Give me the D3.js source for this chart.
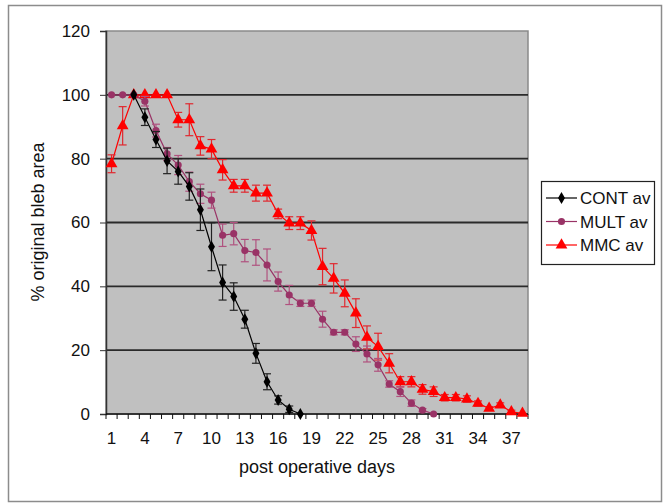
<!DOCTYPE html>
<meta charset="utf-8">
<style>
  html, body { margin: 0; padding: 0; background: #fff; }
  svg text { font-family: "Liberation Sans", Arial, sans-serif; fill: #111; }
  .grid line { stroke: #2a2a2a; stroke-width: 1.8px; }
</style>
<body>
</body>
<script src="https://cdnjs.cloudflare.com/ajax/libs/d3/7.8.5/d3.min.js"></script>
<script>

  var width = 663, height = 504;

  // post operative days on the category axis
  var days = d3.range(1, 39);
  var yTicks = [0, 20, 40, 60, 80, 100, 120];

  // CONT av : days 3..18
  var contDays = d3.range(3, 19);
  var contVals = [100, 93, 86, 79.3, 76, 71.3, 64, 52.4, 41.2, 36.8, 29.7, 19, 10.1, 4.4, 1.5, 0];
  var contErr  = [0, 2.6, 2.5, 4, 4, 4.3, 6.5, 7.5, 5.5, 4.3, 2.8, 3.1, 2.5, 1.3, 1, 0];

  // MULT av : days 1..30
  var multDays = d3.range(1, 31);
  var multVals = [100, 100, 100, 98, 88.8, 81.5, 78, 72.8, 69, 67, 56, 56.5, 51.2, 50.6, 46.7, 41.5, 37.3, 34.7,
                  34.7, 29.7, 25.6, 25.6, 21.9, 18.8, 15.4, 9.4, 7, 3.4, 1.2, 0];
  var multErr  = [0, 0, 0, 1.5, 2, 2, 3, 3, 3, 2.5, 3.5, 3.5, 3.5, 4, 5, 3, 3, 1, 1, 2.5, 0.8, 0.8, 2.3, 2.5,
                  2, 1, 1.5, 1, 0.5, 0];

  // MMC av : days 1..38
  var mmcDays = d3.range(1, 39);
  var mmcVals = [78.4, 90.3, 100, 100, 100, 100, 92.2, 92.2, 84, 83, 76.5, 71.5, 71.5, 69.2, 69.2, 62.7, 59.8, 59.8,
                 57.5, 46.2, 42.5, 37.8, 31.6, 24, 21.1, 15.9, 10.1, 10.1, 7.7, 7, 5.1, 5.1, 4.7, 3.3, 1.8, 2.8, 0.7, 0.2];
  var mmcErr  = [2.8, 6, 0, 0, 0, 0, 2.3, 5, 2.9, 3, 3.2, 2, 2, 2.5, 2.5, 1.5, 2, 2, 3, 5.7, 4.6, 4.2, 4.5, 3.6,
                 4.2, 3, 1.6, 1.6, 1.5, 1.5, 1, 1, 1, 0.8, 0.5, 0.7, 0.5, 0];

  var seriesNames = ["CONT av", "MULT av", "MMC av"];
  var seriesColors = ["#000000", "#993366", "#ff0000"];
  var errColors = ["#222222", "#b0527f", "#e0282f"];
  var symbols = [d3.symbolDiamond, d3.symbolCircle, d3.symbolTriangle];
  var symSizes = [42, 40, 60];

  var plot = {left: 106, right: 528, top: 31, bottom: 414};

  var svg = d3.select("body").append("svg")
      .attr("width", width)
      .attr("height", height);

  // outer chart frame
  svg.append("rect")
      .attr("x", 8.5).attr("y", 5.5)
      .attr("width", 653).attr("height", 496)
      .attr("fill", "#fff").attr("stroke", "#8c8c8c").attr("stroke-width", 1.5);

  var x = d3.scaleBand().domain(days).range([plot.left, plot.right]);
  var y = d3.scaleLinear().domain([0, 120]).range([plot.bottom, plot.top]);
  var cx = d => x(d) + x.bandwidth() / 2;

  // plot area
  svg.append("rect")
      .attr("x", plot.left).attr("y", plot.top)
      .attr("width", plot.right - plot.left).attr("height", plot.bottom - plot.top)
      .attr("fill", "#c0c0c0").attr("stroke", "#8a8a8a").attr("stroke-width", 1.5);

  svg.append("g").attr("class", "grid")
    .selectAll("line")
      .data(yTicks.filter(v => v > 0 && v < 120))
      .enter().append("line")
      .attr("x1", plot.left).attr("x2", plot.right)
      .attr("y1", d => y(d)).attr("y2", d => y(d));

  // y axis
  var yAxis = svg.append("g")
      .attr("transform", "translate(" + plot.left + ",0)")
      .call(d3.axisLeft(y).tickValues(yTicks).tickSize(6).tickPadding(10));
  yAxis.select(".domain").attr("stroke", "#333").attr("stroke-width", 1.5);
  yAxis.selectAll(".tick line").attr("stroke", "#333");
  yAxis.selectAll("text").style("font-size", "17px").attr("fill", "#111");

  // x axis: ticks on category boundaries, labels every third day
  var xg = svg.append("g");
  xg.append("line")
      .attr("x1", plot.left).attr("x2", plot.right)
      .attr("y1", plot.bottom).attr("y2", plot.bottom)
      .attr("stroke", "#111").attr("stroke-width", 1.5);
  xg.selectAll(".xt")
      .data(days.concat([39]))
      .enter().append("line")
      .attr("x1", d => d <= 38 ? x(d) : plot.right)
      .attr("x2", d => d <= 38 ? x(d) : plot.right)
      .attr("y1", plot.bottom).attr("y2", plot.bottom + 5)
      .attr("stroke", "#111");
  xg.selectAll(".xl")
      .data(days.filter(d => (d - 1) % 3 == 0))
      .enter().append("text")
      .attr("x", d => cx(d))
      .attr("y", 444)
      .attr("text-anchor", "middle")
      .style("font-size", "17px")
      .text(d => d);

  svg.append("text")
      .attr("x", 317).attr("y", 473)
      .attr("text-anchor", "middle")
      .style("font-size", "18px")
      .text("post operative days");

  svg.append("text")
      .attr("transform", "translate(44,222) rotate(-90)")
      .attr("text-anchor", "middle")
      .style("font-size", "18px")
      .text("% original bleb area");

  var all = [
    {days: contDays, vals: contVals, err: contErr},
    {days: multDays, vals: multVals, err: multErr},
    {days: mmcDays, vals: mmcVals, err: mmcErr}
  ];

  var line = d3.line().x(d => cx(d.day)).y(d => y(d.v));

  // draw MMC first, then MULT, then CONT on top
  [2, 1, 0].forEach(function(i) {
      var s = all[i];
      var pts = s.days.map((d, k) => ({day: d, v: s.vals[k], e: s.err[k]}));
      var g = svg.append("g");

      g.append("path")
          .datum(pts)
          .attr("d", line)
          .attr("fill", "none")
          .attr("stroke", seriesColors[i])
          .attr("stroke-width", 1.2);

      var eb = g.selectAll(".eb")
          .data(pts.filter(p => p.e > 0))
          .enter().append("g")
          .attr("stroke", errColors[i])
          .attr("stroke-width", 1.2);
      eb.append("line")
          .attr("x1", p => cx(p.day)).attr("x2", p => cx(p.day))
          .attr("y1", p => y(p.v - p.e)).attr("y2", p => y(Math.min(120, p.v + p.e)));
      eb.append("line")
          .attr("x1", p => cx(p.day) - 4).attr("x2", p => cx(p.day) + 4)
          .attr("y1", p => y(p.v + p.e)).attr("y2", p => y(p.v + p.e));
      eb.append("line")
          .attr("x1", p => cx(p.day) - 4).attr("x2", p => cx(p.day) + 4)
          .attr("y1", p => y(p.v - p.e)).attr("y2", p => y(p.v - p.e));

      g.selectAll(".pt")
          .data(pts)
          .enter().append("path")
          .attr("d", d3.symbol().type(symbols[i]).size(symSizes[i]))
          .attr("transform", p => "translate(" + cx(p.day) + "," + y(p.v) + ")")
          .attr("fill", seriesColors[i]);
  });

  // legend
  var leg = svg.append("g");
  leg.append("rect")
      .attr("x", 541.5).attr("y", 181.5)
      .attr("width", 113).attr("height", 83)
      .attr("fill", "#fff").attr("stroke", "#222").attr("stroke-width", 1.2);

  seriesNames.forEach(function(name, i) {
      var ly = 198 + i * 23.5;
      leg.append("line")
          .attr("x1", 546).attr("x2", 577)
          .attr("y1", ly).attr("y2", ly)
          .attr("stroke", seriesColors[i]).attr("stroke-width", 1.2);
      leg.append("path")
          .attr("d", d3.symbol().type(symbols[i]).size(symSizes[i]))
          .attr("transform", "translate(561.5," + ly + ")")
          .attr("fill", seriesColors[i]);
      leg.append("text")
          .attr("x", 580).attr("y", ly + 6)
          .style("font-size", "17px")
          .text(name);
  });

</script>
